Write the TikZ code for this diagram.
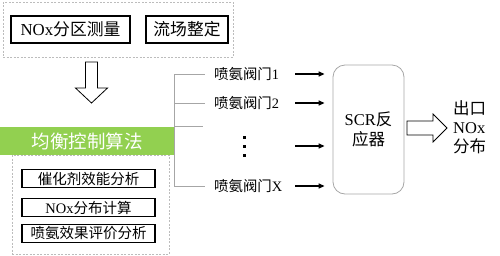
\documentclass[tikz,border=0pt]{standalone}
\usepackage{fontspec}
\setmainfont{Liberation Serif}
\newfontfamily\cjk{Noto Sans CJK SC}
\usetikzlibrary{positioning, arrows.meta}
\definecolor{vert}{HTML}{92D050}
\definecolor{gris}{HTML}{A6A6A6}
\newcommand{\zh}[1]{{\cjk #1}}

\begin{document}
\begin{tikzpicture}[
  x=1pt, y=-1pt,
  cadre/.style={draw=black, line width=1.1pt, inner sep=0pt, align=center},
  haut/.style={cadre, minimum height=27pt, font=\fontsize{16.8}{18}\selectfont},
  calcul/.style={cadre, minimum width=133pt, minimum height=18pt, font=\fontsize{14.5}{16}\selectfont},
  zone/.style={draw=gris!75, dash pattern=on 2pt off 1.5pt, line width=0.6pt, inner sep=0pt},
  vanne/.style={anchor=west, inner xsep=9pt, inner ysep=0pt, font=\fontsize{14.4}{16}\selectfont},
  branche/.style={draw=gris, line width=0.7pt},
  fl/.style={-{Triangle[length=6pt, width=5pt]}, line width=1.3pt},
  creux/.style={draw=black, line width=0.8pt, fill=white, line join=miter},
]
\useasboundingbox (0,0) rectangle (500,255);
% les mesures en amont
\node[zone, minimum width=230pt, minimum height=55pt] (amont) at (118,29.5) {};
\node[haut, minimum width=119pt] (nox) at (70.5,29.5) {NOx\zh{分区测量}};
\node[haut, minimum width=82pt] (flux) at (187,29.5) {\zh{流场整定}};
% la flèche creuse vers le bas
\coordinate (fh) at (91.5,62);
\coordinate (fb) at (91.5,103);
\draw[creux] (fh) ++(-6,0) -- ++(12,0) -- ++(0,26) -- ++(10,0) -- (fb)
  -- ++(-16,-15) -- ++(10,0) -- cycle;
% l'algorithme et ses calculs
\node[zone, minimum width=157pt, minimum height=99pt] (bloc) at (90.5,204.5) {};
\node[fill=vert, minimum width=174pt, minimum height=28pt, inner sep=0pt, text=white,
      font=\fontsize{18.5}{20}\selectfont] (algo) at (87,141) {\zh{均衡控制算法}};
\node[calcul] (catal) at (88.5,178.5) {\zh{催化剂效能分析}};
\node[calcul] (distr) at (88.5,207.5) {NOx\zh{分布计算}};
\node[calcul] (effet) at (88.5,233.5) {\zh{喷氨效果评价分析}};
% les vannes
\coordinate (tronc) at (174,0);
\coordinate (depart) at (295,0);
\node[vanne] (v1) at (205,74) {\zh{喷氨阀门}1};
\node[vanne] (v2) at (205,103) {\zh{喷氨阀门}2};
\node[vanne] (vx) at (205,186) {\zh{喷氨阀门}X};
\node[inner sep=0pt, align=center, font=\fontsize{5}{9}\selectfont] (pts) at (244,146)
  {\rule{3pt}{3pt}\\\rule{3pt}{3pt}\\\rule{3pt}{3pt}};
\coordinate (b3) at (203,126);
\draw[branche] (v1 -| tronc) -- (vx -| tronc);
\draw[branche] (v1 -| tronc) -- (v1.west);
\draw[branche] (v2 -| tronc) -- (v2.west);
\draw[branche] (b3 -| tronc) -- (b3);
\draw[branche] (vx -| tronc) -- (vx.west);
% le réacteur
\node[draw=gris, rounded corners=12pt, line width=0.8pt, minimum width=71pt, minimum height=129pt,
      align=center, font=\fontsize{16.5}{20}\selectfont] (scr) at (368.5,129.5)
  {SCR\zh{反}\\\zh{应器}};
\foreach \n in {v1,v2,pts,vx}
  \draw[fl, shorten >=8pt] (\n -| depart) -- (\n -| scr.west);
% la sortie
\coordinate (sd) at (407,128);
\coordinate (sf) at (447,128);
\draw[creux] (sd) ++(0,-7) -- ++(26,0) -- ++(0,-7) -- (sf) -- ++(-14,14)
  -- ++(0,-7) -- ++(-26,0) -- cycle;
\node[anchor=west, align=left, inner sep=0pt, font=\fontsize{16.5}{19}\selectfont] (sortie)
  at (453,127) {\zh{出口}\\NOx\\\zh{分布}};
\end{tikzpicture}
\end{document}
